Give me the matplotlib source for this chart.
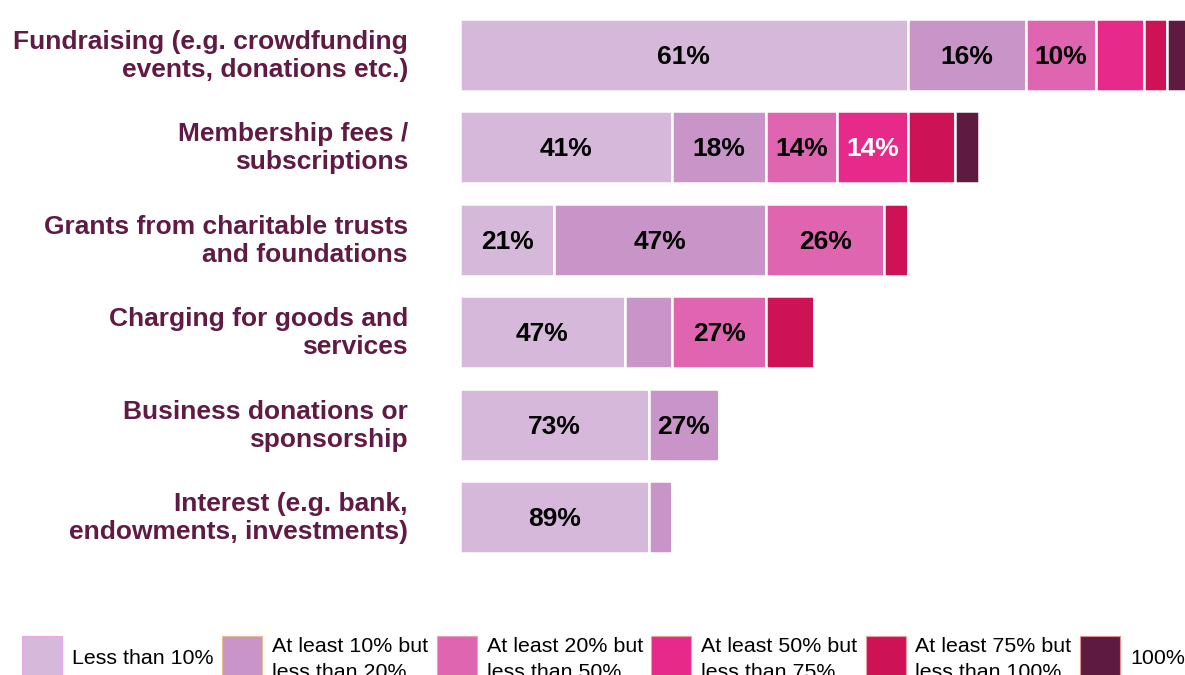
import matplotlib
matplotlib.use("Agg")
import matplotlib.pyplot as plt
from matplotlib.patches import Rectangle
import numpy as np

plt.rcParams['font.family'] = ['Liberation Sans', 'DejaVu Sans']

categories = [
    "Fundraising (e.g. crowdfunding\nevents, donations etc.)",
    "Membership fees /\nsubscriptions",
    "Grants from charitable trusts\nand foundations",
    "Charging for goods and\nservices",
    "Business donations or\nsponsorship",
    "Interest (e.g. bank,\nendowments, investments)",
]
series_names = [
    "Less than 10%",
    "At least 10% but\nless than 20%",
    "At least 20% but\nless than 50%",
    "At least 50% but\nless than 75%",
    "At least 75% but\nless than 100%",
    "100%",
]
# respondent counts per share band (columns follow series_names)
lt10 = [19, 9, 4, 7, 8, 8]
b10_20 = [5, 4, 9, 2, 3, 1]
b20_50 = [3, 3, 5, 4, 0, 0]
b50_75 = [2, 3, 0, 0, 0, 0]
b75_100 = [1, 2, 1, 2, 0, 0]
full = [1, 1, 0, 0, 0, 0]

colors = ["#D6B8DA", "#C994C7", "#DF65B0", "#E7298A", "#CE1256", "#5E1A40"]
label_colors = ["black", "black", "black", "white", "black", "white"]
cat_color = "#611A43"

W, H = 1185, 675
fig = plt.figure(figsize=(W / 100, H / 100), dpi=100)

ax_left = 460 / W
ax = fig.add_axes([ax_left, 1 - 600 / H, 1 - ax_left, 600 / H])
ax.set_axis_off()

data = np.array([lt10, b10_20, b20_50, b50_75, b75_100, full], dtype=float)
totals = data.sum(axis=0)
y = np.arange(len(categories))
left = np.zeros(len(categories))
for k in range(data.shape[0]):
    vals = data[k]
    ax.barh(y, vals, left=left, height=0.78, color=colors[k],
            edgecolor="white", linewidth=1.8)
    for i, v in enumerate(vals):
        if v >= 3:
            pct = int(round(100 * v / totals[i]))
            ax.text(left[i] + v / 2, y[i] + 0.02, f"{pct}%", ha="center",
                    va="center", fontsize=19, fontweight="bold",
                    color=label_colors[k])
    left += vals

unit = 23.57
ax.set_xlim(0, (W - 460) / unit)
ppu = 92.6
ax.set_ylim(5 + (600 - 517) / ppu, -55 / ppu)

for i, c in enumerate(categories):
    ax.text(-52 / unit, y[i] + 0.01, c, ha="right", va="center", fontsize=19,
            fontweight="bold", color=cat_color, linespacing=1.2)

# legend
patch_x = [22, 222, 437, 651, 866, 1080]
text_x = [72, 272, 487, 701, 915, 1130]
edge_cols = ["#E8A8E8", "#E8C090", "#E8A0C0", "#E8A0A0", "#E8A0A0", "#E09090"]
for k in range(6):
    r = Rectangle((patch_x[k] / W, 1 - 700 / H), 40 / W, 64 / H,
                  transform=fig.transFigure, facecolor=colors[k],
                  edgecolor=edge_cols[k], linewidth=0.8)
    fig.add_artist(r)
    name = series_names[k]
    if "\n" in name:
        l1, l2 = name.split("\n")
        fig.text(text_x[k] / W, 1 - 647 / H, l1, ha="left", va="center",
                 fontsize=15.4, color="black")
        fig.text(text_x[k] / W, 1 - 673 / H, l2, ha="left", va="center",
                 fontsize=15.4, color="black")
    else:
        fig.text(text_x[k] / W, 1 - 659 / H, name, ha="left", va="center",
                 fontsize=15.4, color="black")

fig.savefig("out.png", dpi=100)
